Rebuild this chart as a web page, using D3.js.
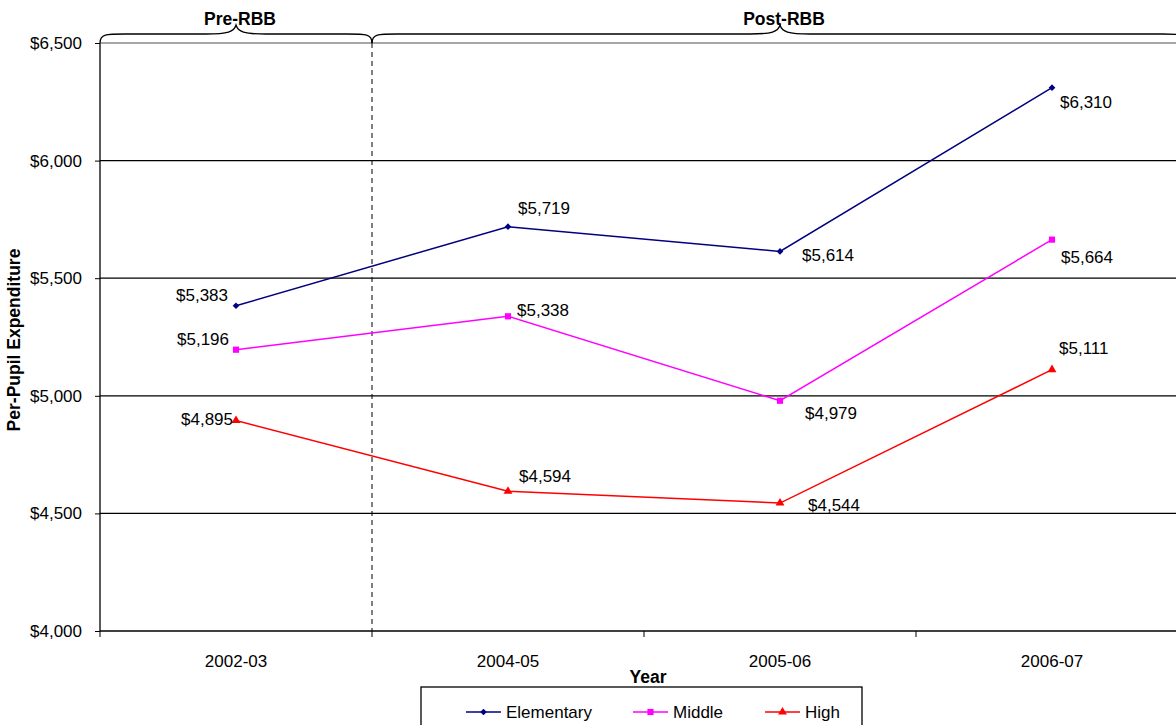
<!DOCTYPE html>
<html>
<head>
<meta charset="utf-8">
<script src="https://cdn.jsdelivr.net/npm/d3@7"></script>
<style>
  body { margin: 0; background: #fff; }
  svg { font-family: "Liberation Sans", Arial, sans-serif; }
</style>
</head>
<body>
<div id="chart"></div>
<script>
// chart data
const years = ['2002-03', '2004-05', '2005-06', '2006-07'];
const elementary = [5383, 5719, 5614, 6310];
const middle = [5196, 5338, 4979, 5664];
const high = [4895, 4594, 4544, 5111];
const yTicks = [4000, 4500, 5000, 5500, 6000, 6500];
const periods = [
  { name: 'Pre-RBB', from: 0, to: 1 },
  { name: 'Post-RBB', from: 1, to: 4 }
];

// label offsets per point [dx, dy (baseline), anchor]
const labelPos = {
  Elementary: [[-8, -5, 'end'], [10, -13, 'start'], [22, 10, 'start'], [8, 20, 'start']],
  Middle: [[-7, -5, 'end'], [9, 0, 'start'], [25, 18, 'start'], [9, 23, 'start']],
  High: [[-3, 5, 'end'], [11, -9, 'start'], [28, 8, 'start'], [7, -16, 'start']]
};

const series = [
  { name: 'Elementary', values: elementary, color: '#000080', symbol: d3.symbolSquare, size: 22, rotate: 45 },
  { name: 'Middle', values: middle, color: '#FF00FF', symbol: d3.symbolSquare, size: 38, rotate: 0 },
  { name: 'High', values: high, color: '#FF0000', symbol: d3.symbolTriangle, size: 34, rotate: 0 }
];

const W = 1176, H = 725;
const margin = { left: 100, top: 43 };
const plotW = 1088, plotH = 588;

const svg = d3.select('#chart').append('svg')
  .attr('width', W).attr('height', H);

const x = d3.scaleBand().domain(years).range([0, plotW]);
const y = d3.scaleLinear().domain([4000, 6500]).range([plotH, 0]);
const fmt = v => '$' + d3.format(',')(v);

const g = svg.append('g').attr('transform', `translate(${margin.left},${margin.top})`);

// gridlines
g.selectAll('.grid').data(yTicks.slice(1, -1)).enter().append('line')
  .attr('x1', 0).attr('x2', plotW)
  .attr('y1', d => y(d)).attr('y2', d => y(d))
  .attr('stroke', '#000').attr('stroke-width', 1.2);
g.append('line').attr('x1', 0).attr('x2', plotW).attr('y1', 0).attr('y2', 0)
  .attr('stroke', '#888').attr('stroke-width', 1.5);

// divider between pre and post
const divX = x(years[1]);
g.append('line').attr('x1', divX).attr('x2', divX).attr('y1', 0).attr('y2', plotH)
  .attr('stroke', '#000').attr('stroke-dasharray', '5,4');

// axes
const yAxis = g.append('g').call(d3.axisLeft(y).tickValues(yTicks).tickFormat(fmt).tickSize(5).tickPadding(13));
const xAxis = g.append('g').attr('transform', `translate(0,${plotH})`)
  .call(d3.axisBottom(x).tickSize(0).tickPadding(24));
[yAxis, xAxis].forEach(a => {
  a.attr('font-size', 17).attr('font-family', '"Liberation Sans", Arial, sans-serif');
  a.select('.domain').attr('stroke', '#000').attr('stroke-width', 1.3);
  a.selectAll('text').attr('fill', '#000');
  a.selectAll('line').attr('stroke', '#000');
});
yAxis.select('.domain').attr('d', `M0,${plotH}V0`);
xAxis.select('.domain').attr('d', `M0,0H${plotW}`);
// category separators on x axis
g.selectAll('.xtick').data(d3.range(years.length + 1)).enter().append('line')
  .attr('x1', i => i * x.step()).attr('x2', i => i * x.step())
  .attr('y1', plotH).attr('y2', plotH + 6).attr('stroke', '#000');

// lines, markers, labels
const line = d3.line().x((d, i) => x(years[i]) + x.bandwidth() / 2).y(d => y(d));
series.forEach(s => {
  g.append('path').datum(s.values).attr('d', line)
    .attr('fill', 'none').attr('stroke', s.color).attr('stroke-width', 1.5);
  g.selectAll(null).data(s.values).enter().append('path')
    .attr('d', d3.symbol().type(s.symbol).size(s.size))
    .attr('transform', (d, i) => `translate(${x(years[i]) + x.bandwidth() / 2},${y(d)}) rotate(${s.rotate})`)
    .attr('fill', s.color);
  g.selectAll(null).data(s.values).enter().append('text')
    .attr('x', (d, i) => x(years[i]) + x.bandwidth() / 2 + labelPos[s.name][i][0])
    .attr('y', (d, i) => y(d) + labelPos[s.name][i][1])
    .attr('text-anchor', (d, i) => labelPos[s.name][i][2])
    .attr('font-size', 17).text(fmt);
});

// braces above the plot
function brace(x0, x1, top) {
  const mid = (x0 + x1) / 2, h = 9, t = 9;
  return `M${x0},${top + h}C${x0},${top} ${x0 + 6},${top} ${x0 + 25},${top}` +
    `L${mid - 30},${top}C${mid - 8},${top} ${mid - 2},${top - 2} ${mid},${top - t}` +
    `C${mid + 2},${top - 2} ${mid + 8},${top} ${mid + 30},${top}` +
    `L${x1 - 25},${top}C${x1 - 6},${top} ${x1},${top} ${x1},${top + h}`;
}
periods.forEach(p => {
  const x0 = p.from * x.step(), x1 = p.to * x.step();
  g.append('path').attr('d', brace(x0, x1, -9))
    .attr('fill', 'none').attr('stroke', '#000').attr('stroke-width', 1.3);
  g.append('text').attr('x', (x0 + x1) / 2 + 4).attr('y', -18)
    .attr('text-anchor', 'middle').attr('font-size', 17.5).attr('font-weight', 'bold')
    .text(p.name);
});

// axis titles
svg.append('text').attr('x', 648).attr('y', 683).attr('text-anchor', 'middle')
  .attr('font-size', 17.5).attr('font-weight', 'bold').text('Year');
svg.append('text').attr('transform', 'translate(20,340) rotate(-90)')
  .attr('text-anchor', 'middle').attr('font-size', 17.5).attr('font-weight', 'bold')
  .text('Per-Pupil Expenditure');

// legend
const lg = svg.append('g').attr('transform', 'translate(421,687)');
lg.append('rect').attr('width', 441).attr('height', 50)
  .attr('fill', '#fff').attr('stroke', '#000').attr('stroke-width', 1.3);
const legendX = [45, 212, 344];
series.forEach((s, i) => {
  const it = lg.append('g').attr('transform', `translate(${legendX[i]},25)`);
  it.append('line').attr('x1', 0).attr('x2', 35).attr('stroke', s.color).attr('stroke-width', 1.5);
  it.append('path').attr('d', d3.symbol().type(s.symbol).size(s.size))
    .attr('transform', `translate(17.5,0) rotate(${s.rotate})`).attr('fill', s.color);
  it.append('text').attr('x', 40).attr('y', 6).attr('font-size', 17).text(s.name);
});
</script>
</body>
</html>
